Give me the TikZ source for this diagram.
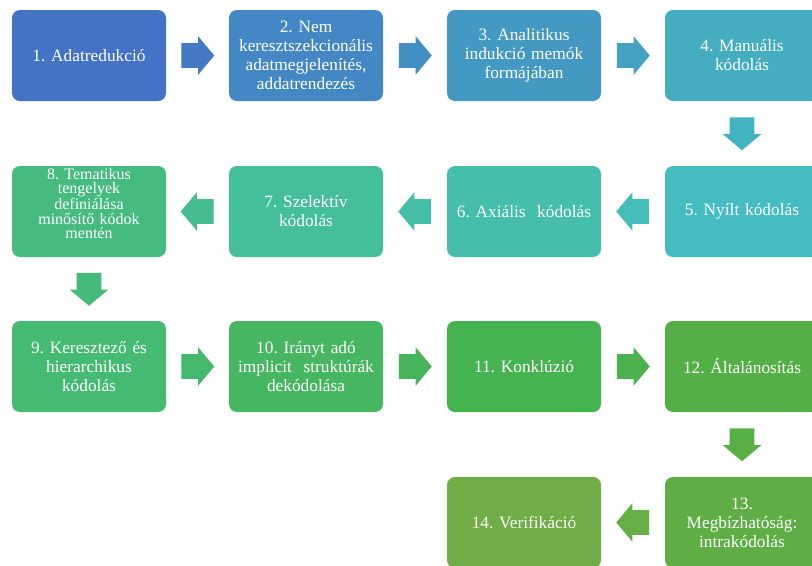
\documentclass[tikz,border=0pt]{standalone}
\usepackage{fontspec}
\setmainfont{Liberation Serif}
\usetikzlibrary{calc,shapes.arrows}

\definecolor{c1}{HTML}{4472C4}
\definecolor{c2}{HTML}{4387C4}
\definecolor{c3}{HTML}{4499C2}
\definecolor{c4}{HTML}{44ADC0}
\definecolor{c5}{HTML}{45BCC2}
\definecolor{c6}{HTML}{45BEAB}
\definecolor{c7}{HTML}{45BE9B}
\definecolor{c8}{HTML}{45BB80}
\definecolor{c9}{HTML}{45BA72}
\definecolor{c10}{HTML}{46B660}
\definecolor{c11}{HTML}{46B351}
\definecolor{c12}{HTML}{54B046}
\definecolor{c13}{HTML}{5FAE45}
\definecolor{c14}{HTML}{70AD47}

\tikzset{
  phase/.style={fill=#1, draw=none, rounded corners=6pt,
    minimum width=115.5pt, minimum height=68.25pt, inner sep=0pt,
    text width=114pt, align=center, text=white,
    font=\fontsize{13}{14.3}\selectfont\frenchspacing},
  flow/.style={single arrow, fill=#1, draw=none, inner xsep=0pt, inner ysep=9pt,
    minimum height=24.75pt, minimum width=28.5pt, anchor=tail,
    single arrow head extend=5.25pt, single arrow tip angle=100},
}

\begin{document}
\begin{tikzpicture}[x=0.75pt,y=-0.75pt]
		%%%%% START %%%%%
		\useasboundingbox (0,0) rectangle (812,565);
		
		% row 1
		\node[phase=c1] (b1) at (89,55.5) {1. Adatredukció};
		\node[phase=c2] (b2) at (306,55.5) {2. Nem\\keresztszekcionális\\adatmegjelenítés,\\addatrendezés};
		\node[phase=c3] (b3) at (524,55.5) {3. Analitikus\\indukció memók\\formájában};
		\node[phase=c4] (b4) at (742,55.5) {4. Manuális\\kódolás};
		
		% row 2
		\node[phase=c5] (b5) at (742,211.5) {5. Nyílt kódolás};
		\node[phase=c6] (b6) at (524,211.5) {6. Axiális~~kódolás};
		\node[phase=c7] (b7) at (306,211.5) {7. Szelektív\\kódolás};
		\node[phase=c8, label={[text width=114pt, align=center, text=white,
		    font=\fontsize{12}{10.9}\selectfont\frenchspacing, yshift=6pt]center:{8. Tematikus\\tengelyek\\definiálása\\minősítő kódok\\mentén}}]
		    (b8) at (89,211.5) {};
		
		% row 3
		\node[phase=c9] (b9) at (89,366.5) {9. Keresztező és\\hierarchikus\\kódolás};
		\node[phase=c10] (b10) at (306,366.5) {10. Irányt adó\\implicit~~struktúrák\\dekódolása};
		\node[phase=c11] (b11) at (524,366.5) {11. Konklúzió};
		\node[phase=c12] (b12) at (742,366.5) {12. Általánosítás};
		
		% row 4
		\node[phase=c13] (b13) at (742,522.5) {13.\\Megbízhatóság:\\intrakódolás};
		\node[phase=c14] (b14) at (524,522.5) {14. Verifikáció};
		
		% arrows
		\node[flow=c1!60!c2] (a1) at ($(b1.east)!0.5!(b2.west)+(-16.5,0)$) {};
		\node[flow=c2!60!c3] (a2) at ($(b2.east)!0.5!(b3.west)+(-16.5,0)$) {};
		\node[flow=c3!60!c4] (a3) at ($(b3.east)!0.5!(b4.west)+(-16.5,0)$) {};
		\node[flow=c4!60!c5, rotate=-90] (a4) at ($(b4.south)!0.5!(b5.north)+(0,-16.5)$) {};
		\node[flow=c5!60!c6, rotate=180] (a5) at ($(b5.west)!0.5!(b6.east)+(16.5,0)$) {};
		\node[flow=c6!60!c7, rotate=180] (a6) at ($(b6.west)!0.5!(b7.east)+(16.5,0)$) {};
		\node[flow=c7!60!c8, rotate=180] (a7) at ($(b7.west)!0.5!(b8.east)+(16.5,0)$) {};
		\node[flow=c8!60!c9, rotate=-90] (a8) at ($(b8.south)!0.5!(b9.north)+(0,-16.5)$) {};
		\node[flow=c9!60!c10] (a9) at ($(b9.east)!0.5!(b10.west)+(-16.5,0)$) {};
		\node[flow=c10!60!c11] (a10) at ($(b10.east)!0.5!(b11.west)+(-16.5,0)$) {};
		\node[flow=c11!60!c12] (a11) at ($(b11.east)!0.5!(b12.west)+(-16.5,0)$) {};
		\node[flow=c12!60!c13, rotate=-90] (a12) at ($(b12.south)!0.5!(b13.north)+(0,-16.5)$) {};
		\node[flow=c13!60!c14, rotate=180] (a13) at ($(b13.west)!0.5!(b14.east)+(16.5,0)$) {};
		
		%%%%% END %%%%%
	\end{tikzpicture}
\end{document}
